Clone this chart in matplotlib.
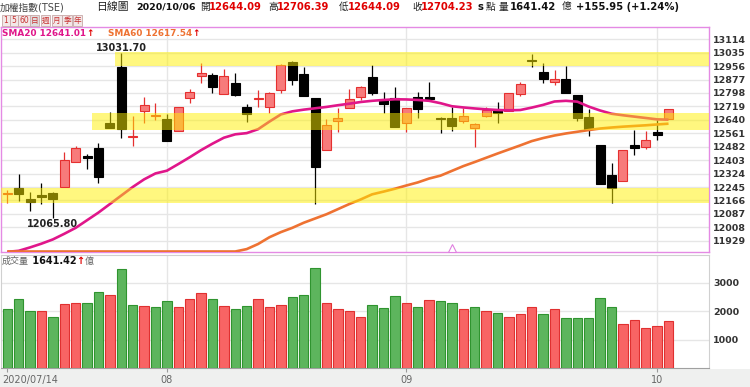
# TAIEX daily candles with SMA20 / SMA60 and volume, 2020/07/14 - 2020/10/06
import numpy as np
import matplotlib
matplotlib.use('Agg')
import matplotlib.pyplot as plt
import matplotlib.transforms as mtransforms
from matplotlib.patches import Rectangle

plt.rcParams['font.family'] = ['DejaVu Sans', 'Noto Sans CJK TC']

# candles
opens = [12206, 12237, 12176, 12200, 12208, 12243, 12392, 12427, 12473, 12623,
         12953, 12538, 12694, 12660, 12645, 12576, 12767, 12898, 12904, 12790,
         12859, 12718, 12762, 12718, 12816, 12982, 12910, 12771, 12463, 12632,
         12708, 12773, 12894, 12757, 12767, 12623, 12773, 12776, 12650, 12649,
         12635, 12594, 12663, 12698, 12694, 12792, 12990, 12922, 12863, 12879,
         12786, 12655, 12492, 12316, 12283, 12492, 12482, 12570, 12644.09]
highs = [12227, 12322, 12217, 12270, 12217, 12453, 12486, 12437, 12506, 12688,
         13031.70, 12663, 12773, 12741, 12675, 12714, 12820, 12976, 12918, 12938,
         12914, 12733, 12816, 12806, 12968, 12988, 12953, 12771, 12643, 12708,
         12820, 12840, 12963, 12806, 12832, 12708, 12806, 12865, 12659, 12718,
         12708, 12620, 12714, 12747, 12800, 12865, 13026, 12976, 12933, 12957,
         12786, 12702, 12492, 12388, 12463, 12580, 12576, 12639, 12706.39]
lows = [12149, 12164, 12106, 12145, 12065.80, 12243, 12392, 12351, 12267, 12590,
        12531, 12486, 12620, 12639, 12514, 12576, 12741, 12855, 12796, 12790,
        12780, 12627, 12718, 12682, 12800, 12845, 12780, 12145, 12463, 12570,
        12708, 12757, 12786, 12679, 12596, 12570, 12649, 12757, 12561, 12576,
        12620, 12482, 12655, 12620, 12694, 12780, 12953, 12855, 12843, 12800,
        12635, 12545, 12263, 12149, 12283, 12433, 12467, 12522, 12644.09]
closes = [12210, 12204, 12157, 12185, 12174, 12404, 12473, 12416, 12306, 12593,
          12586, 12544, 12726, 12666, 12516, 12714, 12806, 12918, 12832, 12898,
          12785, 12675, 12768, 12800, 12963, 12875, 12780, 12364, 12608, 12651,
          12761, 12835, 12796, 12733, 12596, 12708, 12702, 12761, 12644, 12604,
          12663, 12614, 12698, 12682, 12796, 12851, 12986, 12879, 12881, 12800,
          12649, 12585, 12263, 12237, 12463, 12473, 12522, 12551, 12704.23]
volumes = [2053, 2415, 1994, 1994, 1784, 2240, 2275, 2298, 2673, 2556,
           3468, 2205, 2158, 2123, 2345, 2135, 2415, 2626, 2415, 2158,
           2064, 2181, 2415, 2135, 2228, 2485, 2556, 3515, 2275, 2064,
           1994, 1807, 2205, 2099, 2520, 2298, 2135, 2380, 2345, 2287,
           2064, 2123, 2006, 1924, 1807, 1889, 2123, 1889, 2053, 1760,
           1760, 1760, 2450, 2123, 1561, 1678, 1398, 1491, 1641.42]
sma20 = [11864, 11870, 11890, 11912, 11937, 11970, 12005, 12050, 12095, 12145,
         12195, 12245, 12290, 12325, 12341, 12380, 12420, 12462, 12500, 12535,
         12555, 12562, 12585, 12630, 12672, 12690, 12700, 12708, 12716, 12726,
         12735, 12745, 12752, 12757, 12761, 12760, 12757, 12752, 12738, 12720,
         12713, 12707, 12702, 12698, 12696, 12698, 12712, 12728, 12748, 12752,
         12747, 12718, 12695, 12676, 12667, 12659, 12651, 12643, 12641.01]
sma60 = [11866] * 21 + [11880, 11910, 11950, 11980, 12005, 12035, 12060, 12085, 12115,
                        12145, 12172, 12202, 12218, 12235, 12254, 12272, 12295, 12312, 12340,
                        12368, 12392, 12417, 12442, 12466, 12490, 12515, 12533, 12548, 12560,
                        12570, 12580, 12589, 12595, 12600, 12604, 12608, 12613, 12617.54]

price_ticks = [13114, 13035, 12956, 12877, 12798, 12719, 12640, 12561,
               12482, 12403, 12324, 12245, 12166, 12087, 12008, 11929]
vol_ticks = [1000, 2000, 3000]
month_pos = [0, 14, 35, 57]
month_labels = ['2020/07/14', '08', '09', '10']

# yellow support / resistance zones
band_lo = [12955, 12580, 12150]
band_hi = [13040, 12680, 12240]
band_from = [9.45, 7.45, -0.6]

W, H = 750, 387


def fx(px):
    return px / W


def fy(py):
    return 1 - py / H


fig = plt.figure(figsize=(7.5, 3.87), dpi=100)
fig.patch.set_facecolor('white')
fig.patches.append(Rectangle((0, 0), 1, fy(369), transform=fig.transFigure,
                             fc='#EFF0EF', ec='none', zorder=-5))

ax = fig.add_axes([fx(1), fy(252), fx(709) - fx(1), fy(27) - fy(252)])
axv = fig.add_axes([fx(1), fy(368), fx(709) - fx(1), fy(255) - fy(368)])

x = np.arange(len(closes))
xlim = (-0.55, 61.55)

# price panel
for i in x:
    up = closes[i] >= opens[i]
    edge = '#E53030' if up else 'black'
    face = '#F77B7B' if up else 'black'
    ax.vlines(i, lows[i], highs[i], color=edge, lw=0.9, zorder=3)
    lo = min(opens[i], closes[i])
    h = max(abs(closes[i] - opens[i]), 4)
    ax.add_patch(Rectangle((i - 0.4, lo), 0.8, h, fc=face, ec=edge, lw=0.8, zorder=4))

ax.plot(x, sma20, color='#E0168A', lw=1.9, zorder=5, solid_capstyle='butt')
ax.plot(x, sma60, color='#EE7232', lw=1.9, zorder=5, solid_capstyle='butt')

for lo, hi, start in zip(band_lo, band_hi, band_from):
    ax.add_patch(Rectangle((start, lo), xlim[1] - start, hi - lo,
                           fc='#FFF000', ec='none', alpha=0.5, zorder=6))

ax.plot(39, 11884, marker='^', ms=6, mfc='white', mec='#E080E0', mew=0.8, zorder=7)

ax.annotate('13031.70', (10, highs[10]), xytext=(0, 0), textcoords='offset points',
            ha='center', va='bottom', fontsize=7, fontweight='bold', color='#222')
ax.annotate('12065.80', (4, lows[4]), xytext=(0, -1), textcoords='offset points',
            ha='center', va='top', fontsize=7, fontweight='bold', color='#222')

ax.set_xlim(*xlim)
ax.set_ylim(11863, 13186)
ax.set_yticks(price_ticks)
ax.yaxis.tick_right()
ax.tick_params(axis='y', length=0, pad=3, labelsize=6.8, labelcolor='#333')
for lbl in ax.get_yticklabels():
    lbl.set_fontweight('bold')
ax.set_xticks([])
ax.yaxis.grid(True, color='#E6E6E6', lw=1)
ax.set_axisbelow(True)
for m in month_pos[1:]:
    ax.axvline(m, color='#E6E6E6', lw=1, zorder=1)
for s in ax.spines.values():
    s.set_color('#E48AE4')
    s.set_linewidth(1)

# moving average legend
t1 = ax.text(fx(2), fy(34), 'SMA20 12641.01', transform=fig.transFigure, fontsize=6.4,
             fontweight='bold', color='#E0168A', va='center', ha='left')
ax.annotate('↑', xy=(1, 0.5), xycoords=t1, va='center', ha='left', fontsize=6.4,
            fontweight='bold', color='#E00000')
t2 = ax.text(fx(108), fy(34), 'SMA60 12617.54', transform=fig.transFigure, fontsize=6.4,
             fontweight='bold', color='#EE7232', va='center', ha='left')
ax.annotate('↑', xy=(1, 0.5), xycoords=t2, va='center', ha='left', fontsize=6.4,
            fontweight='bold', color='#E00000')

# volume panel
vol_up = [False] + [closes[i] > closes[i - 1] for i in range(1, len(closes))]
vface = ['#F86464' if u else '#5DB55D' for u in vol_up]
vedge = ['#E03030' if u else '#2F942F' for u in vol_up]
axv.bar(x, volumes, width=0.82, color=vface, edgecolor=vedge, lw=0.8, zorder=3)
axv.set_xlim(*xlim)
axv.set_ylim(0, 3965)
axv.set_yticks(vol_ticks)
axv.yaxis.tick_right()
axv.tick_params(axis='y', length=0, pad=3, labelsize=6.8, labelcolor='#333')
for lbl in axv.get_yticklabels():
    lbl.set_fontweight('bold')
axv.yaxis.grid(True, color='#E6E6E6', lw=1)
axv.set_axisbelow(True)
for m in month_pos[1:]:
    axv.axvline(m, color='#E6E6E6', lw=1, zorder=1)
axv.set_xticks(month_pos)
axv.set_xticklabels(month_labels)
axv.tick_params(axis='x', length=3, color='#999', labelsize=7, labelcolor='#666', pad=2)
first = axv.get_xticklabels()[0]
first.set_horizontalalignment('left')
first.set_transform(first.get_transform() +
                    mtransforms.ScaledTranslation(-5 / 100, 0, fig.dpi_scale_trans))
for s in axv.spines.values():
    s.set_color('#D0D0D0')
axv.spines['bottom'].set_color('#A0A0A0')

tv = axv.text(fx(2), fy(261), '成交量', transform=fig.transFigure, fontsize=6.5,
              color='#666', va='center', ha='left')
tv2 = axv.annotate(' 1641.42', xy=(1, 0.5), xycoords=tv, va='center', ha='left',
                   fontsize=7, fontweight='bold', color='#111')
tv3 = axv.annotate('↑', xy=(1, 0.5), xycoords=tv2, va='center', ha='left',
                   fontsize=7, fontweight='bold', color='#E00000')
axv.annotate('億', xy=(1, 0.5), xycoords=tv3, va='center', ha='left',
             fontsize=6.5, color='#666')

# header line
hy = fy(7)
fig.text(fx(0), hy, '加權指數(TSE)', fontsize=7, color='#444', va='center')
fig.text(fx(96), hy, '日線圖', fontsize=7.8, color='#222', va='center')
fig.text(fx(136), hy, '2020/10/06', fontsize=6.8, fontweight='bold', color='#111', va='center')
header_vals = [(200, '開', '12644.09'), (268, '高', '12706.39'),
               (339, '低', '12644.09'), (412, '收', '12704.23')]
for hx, lab, val in header_vals:
    fig.text(fx(hx), hy, lab, fontsize=7, color='#222', va='center')
    fig.text(fx(hx + 9), hy, val, fontsize=7.2, fontweight='bold', color='#E00000', va='center')
fig.text(fx(477), hy, 's', fontsize=7.2, fontweight='bold', color='#111', va='center')
fig.text(fx(486), hy, '點', fontsize=7, color='#222', va='center')
fig.text(fx(499), hy, '量', fontsize=7, color='#222', va='center')
fig.text(fx(510), hy, '1641.42', fontsize=7.2, fontweight='bold', color='#111', va='center')
fig.text(fx(562), hy, '億', fontsize=7, color='#222', va='center')
fig.text(fx(576), hy, '+155.95 (+1.24%)', fontsize=7.2, fontweight='bold', color='#111', va='center')

# period buttons
buttons = ['1', '5', '60', '日', '週', '月', '季', '年']
bx = [6, 14, 24.5, 34.5, 45.5, 57, 67, 77.5]
for b, cx in zip(buttons, bx):
    fig.text(fx(cx), fy(20.5), b, fontsize=5.5, color='#C83232', va='center', ha='center',
             bbox=dict(boxstyle='square,pad=0.15', fc='#F2E8E8' if b != '日' else '#DDDDDD',
                       ec='#C8A8A8', lw=0.6))

fig.savefig('out.png', dpi=100)
